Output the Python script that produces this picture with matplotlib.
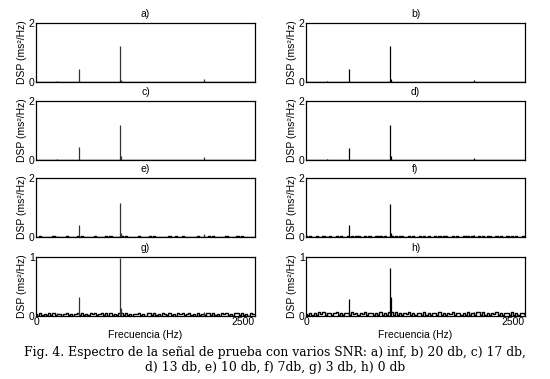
'''
 Espectro de la senal de prueba con varios SNR (8 paneles)
'''

import numpy as np
import matplotlib
matplotlib.use('Agg')
import matplotlib.pyplot as plt

panel_titles = ['a)', 'b)', 'c)', 'd)', 'e)', 'f)', 'g)', 'h)']
y_max = [2, 2, 2, 2, 2, 2, 1, 1]

# spike frequencies (Hz) and heights per panel
spike_freqs = [245, 490, 960, 975, 1915]
spike_heights = {
    'a)': [0.03, 0.44, 1.21, 0.07, 0.09],
    'b)': [0.03, 0.44, 1.22, 0.10, 0.07],
    'c)': [0.03, 0.43, 1.20, 0.12, 0.09],
    'd)': [0.04, 0.42, 1.18, 0.14, 0.08],
    'e)': [0.03, 0.42, 1.15, 0.12, 0.09],
    'f)': [0.03, 0.41, 1.13, 0.12, 0.08],
    'g)': [0.05, 0.33, 0.98, 0.14, 0.06],
    'h)': [0.05, 0.28, 0.82, 0.33, 0.06],
}

# noise floor, sampled every 25 Hz from 0 to 2500 Hz (101 values)
noise_floor = {
    'a)': [0.0] * 101,
    'b)': [0.0] * 101,
    'c)': [0.005, 0.003, 0.006, 0.004, 0.002, 0.005, 0.004, 0.003, 0.006, 0.004,
           0.003, 0.005, 0.004, 0.002, 0.006, 0.003, 0.005, 0.004, 0.003, 0.005,
           0.004, 0.006, 0.003, 0.004, 0.005, 0.003, 0.004, 0.006, 0.003, 0.005,
           0.004, 0.003, 0.005, 0.004, 0.006, 0.003, 0.005, 0.004, 0.003, 0.005,
           0.004, 0.006, 0.003, 0.004, 0.005, 0.003, 0.004, 0.006, 0.003, 0.005,
           0.004, 0.003, 0.005, 0.004, 0.006, 0.003, 0.005, 0.004, 0.003, 0.005,
           0.004, 0.006, 0.003, 0.004, 0.005, 0.003, 0.004, 0.006, 0.003, 0.005,
           0.004, 0.003, 0.005, 0.004, 0.006, 0.003, 0.005, 0.004, 0.003, 0.005,
           0.004, 0.006, 0.003, 0.004, 0.005, 0.003, 0.004, 0.006, 0.003, 0.005,
           0.004, 0.003, 0.005, 0.004, 0.006, 0.003, 0.005, 0.004, 0.003, 0.005,
           0.004],
    'd)': [0.006, 0.004, 0.008, 0.005, 0.003, 0.007, 0.005, 0.004, 0.008, 0.005,
           0.004, 0.007, 0.005, 0.003, 0.008, 0.004, 0.006, 0.005, 0.004, 0.007,
           0.005, 0.008, 0.004, 0.005, 0.007, 0.004, 0.005, 0.008, 0.004, 0.006,
           0.005, 0.004, 0.007, 0.005, 0.008, 0.004, 0.006, 0.005, 0.004, 0.007,
           0.005, 0.008, 0.004, 0.005, 0.007, 0.004, 0.005, 0.008, 0.004, 0.006,
           0.005, 0.004, 0.007, 0.005, 0.008, 0.004, 0.006, 0.005, 0.004, 0.007,
           0.005, 0.008, 0.004, 0.005, 0.007, 0.004, 0.005, 0.008, 0.004, 0.006,
           0.005, 0.004, 0.007, 0.005, 0.008, 0.004, 0.006, 0.005, 0.004, 0.007,
           0.005, 0.008, 0.004, 0.005, 0.007, 0.004, 0.005, 0.008, 0.004, 0.006,
           0.005, 0.004, 0.007, 0.005, 0.008, 0.004, 0.006, 0.005, 0.004, 0.007,
           0.005],
    'e)': [0.012, 0.006, 0.018, 0.009, 0.004, 0.015, 0.010, 0.007, 0.020, 0.011,
           0.005, 0.016, 0.009, 0.004, 0.019, 0.008, 0.013, 0.010, 0.006, 0.017,
           0.011, 0.022, 0.007, 0.012, 0.016, 0.006, 0.010, 0.021, 0.008, 0.014,
           0.009, 0.005, 0.017, 0.012, 0.020, 0.007, 0.013, 0.010, 0.006, 0.018,
           0.011, 0.023, 0.006, 0.012, 0.015, 0.005, 0.010, 0.019, 0.008, 0.014,
           0.010, 0.006, 0.018, 0.011, 0.021, 0.007, 0.013, 0.009, 0.005, 0.016,
           0.011, 0.020, 0.007, 0.012, 0.017, 0.006, 0.010, 0.022, 0.008, 0.014,
           0.009, 0.005, 0.016, 0.012, 0.019, 0.007, 0.013, 0.010, 0.006, 0.018,
           0.011, 0.021, 0.006, 0.012, 0.016, 0.005, 0.010, 0.020, 0.008, 0.014,
           0.010, 0.006, 0.017, 0.011, 0.022, 0.007, 0.013, 0.009, 0.005, 0.016,
           0.010],
    'f)': [0.018, 0.009, 0.026, 0.013, 0.006, 0.022, 0.015, 0.010, 0.030, 0.016,
           0.008, 0.024, 0.013, 0.006, 0.028, 0.012, 0.019, 0.015, 0.009, 0.025,
           0.016, 0.032, 0.010, 0.018, 0.024, 0.009, 0.015, 0.031, 0.012, 0.021,
           0.013, 0.008, 0.025, 0.018, 0.030, 0.010, 0.019, 0.015, 0.009, 0.027,
           0.016, 0.034, 0.009, 0.018, 0.022, 0.008, 0.015, 0.028, 0.012, 0.021,
           0.015, 0.009, 0.027, 0.016, 0.031, 0.010, 0.019, 0.013, 0.008, 0.024,
           0.016, 0.030, 0.010, 0.018, 0.025, 0.009, 0.015, 0.033, 0.012, 0.021,
           0.013, 0.008, 0.024, 0.018, 0.028, 0.010, 0.019, 0.015, 0.009, 0.027,
           0.016, 0.031, 0.009, 0.018, 0.024, 0.008, 0.015, 0.030, 0.012, 0.021,
           0.015, 0.009, 0.025, 0.016, 0.032, 0.010, 0.019, 0.013, 0.008, 0.024,
           0.015],
    'g)': [0.030, 0.008, 0.045, 0.015, 0.032, 0.010, 0.048, 0.020, 0.050, 0.012,
           0.035, 0.042, 0.006, 0.038, 0.048, 0.012, 0.035, 0.008, 0.040, 0.044,
           0.010, 0.052, 0.020, 0.034, 0.009, 0.043, 0.028, 0.050, 0.012, 0.038,
           0.046, 0.014, 0.044, 0.008, 0.049, 0.019, 0.036, 0.010, 0.047, 0.046,
           0.010, 0.055, 0.016, 0.034, 0.008, 0.040, 0.028, 0.047, 0.012, 0.038,
           0.008, 0.045, 0.046, 0.010, 0.051, 0.019, 0.036, 0.007, 0.044, 0.042,
           0.010, 0.050, 0.019, 0.034, 0.008, 0.044, 0.028, 0.054, 0.012, 0.038,
           0.046, 0.014, 0.042, 0.008, 0.048, 0.019, 0.036, 0.010, 0.047, 0.046,
           0.010, 0.051, 0.016, 0.034, 0.008, 0.043, 0.028, 0.049, 0.012, 0.038,
           0.008, 0.045, 0.044, 0.010, 0.052, 0.019, 0.036, 0.007, 0.044, 0.042,
           0.030],
    'h)': [0.040, 0.010, 0.058, 0.022, 0.046, 0.012, 0.060, 0.026, 0.064, 0.014,
           0.048, 0.055, 0.010, 0.050, 0.062, 0.016, 0.045, 0.012, 0.053, 0.057,
           0.012, 0.066, 0.026, 0.044, 0.011, 0.056, 0.036, 0.064, 0.014, 0.049,
           0.058, 0.018, 0.057, 0.010, 0.063, 0.024, 0.046, 0.012, 0.060, 0.060,
           0.012, 0.070, 0.021, 0.044, 0.010, 0.052, 0.036, 0.061, 0.014, 0.049,
           0.010, 0.058, 0.059, 0.012, 0.066, 0.024, 0.046, 0.009, 0.057, 0.054,
           0.012, 0.064, 0.024, 0.044, 0.010, 0.057, 0.036, 0.069, 0.014, 0.049,
           0.058, 0.018, 0.054, 0.010, 0.062, 0.024, 0.046, 0.012, 0.060, 0.060,
           0.012, 0.066, 0.021, 0.044, 0.010, 0.056, 0.036, 0.063, 0.014, 0.049,
           0.010, 0.058, 0.057, 0.012, 0.067, 0.024, 0.046, 0.009, 0.057, 0.054,
           0.040],
}

x_ticks = [0, 2500]
x_label = 'Frecuencia (Hz)'
y_label = 'DSP (ms²/Hz)'
caption = ('Fig. 4. Espectro de la señal de prueba con varios SNR: a) inf, b) 20 db, c) 17 db,\n'
           'd) 13 db, e) 10 db, f) 7db, g) 3 db, h) 0 db')

label_font = ['Liberation Sans Narrow', 'Liberation Sans', 'DejaVu Sans']


def plot_panel(ax, title, ymax, show_x, line_color):
    '''
    Draws one spectrum panel
    '''
    freq = np.arange(0, 2501, 25)
    ax.plot(freq, noise_floor[title], color='black', lw=1.0, drawstyle='steps-mid')
    ax.vlines(spike_freqs, 0, spike_heights[title], color=line_color, lw=0.9)

    ax.set_xlim(0, 2500)
    ax.set_ylim(0, ymax)
    ax.set_yticks([0, ymax])
    ax.set_yticklabels([str(0), str(ymax)], family=label_font, fontsize=7.5)
    ax.tick_params(length=0, pad=1)
    if show_x:
        ax.set_xticks(x_ticks)
        labels = ax.set_xticklabels([str(t) for t in x_ticks], family=label_font,
                                    fontsize=7.5)
        labels[1].set_horizontalalignment('right')
        ax.set_xlabel(x_label, family=label_font, fontsize=7.5, labelpad=2)
    else:
        ax.set_xticks([])
    ax.set_ylabel(y_label, family=label_font, fontsize=7.5, labelpad=1)
    ax.set_title(title, family=label_font, fontsize=7.5, pad=4)
    for spine in ax.spines.values():
        spine.set_linewidth(0.9)


def run():
    '''
    Builds the whole figure
    '''
    fig = plt.figure(figsize=(5.5, 3.79), dpi=100)
    lefts = [36 / 550, 306 / 550]
    colors = ['#333333', 'black']
    width = 219 / 550
    tops = [23, 101, 178, 257]
    for i, title in enumerate(panel_titles):
        row, col = divmod(i, 2)
        bottom = 1 - (tops[row] + 59) / 379
        ax = fig.add_axes([lefts[col], bottom, width, 59 / 379])
        plot_panel(ax, title, y_max[i], row == 3, colors[col])

    fig.text(0.5, 1 - 360 / 379, caption, ha='center', va='center',
             family='DejaVu Serif', fontsize=8.9, linespacing=1.2)
    fig.savefig('out.png', dpi=100)


run()
